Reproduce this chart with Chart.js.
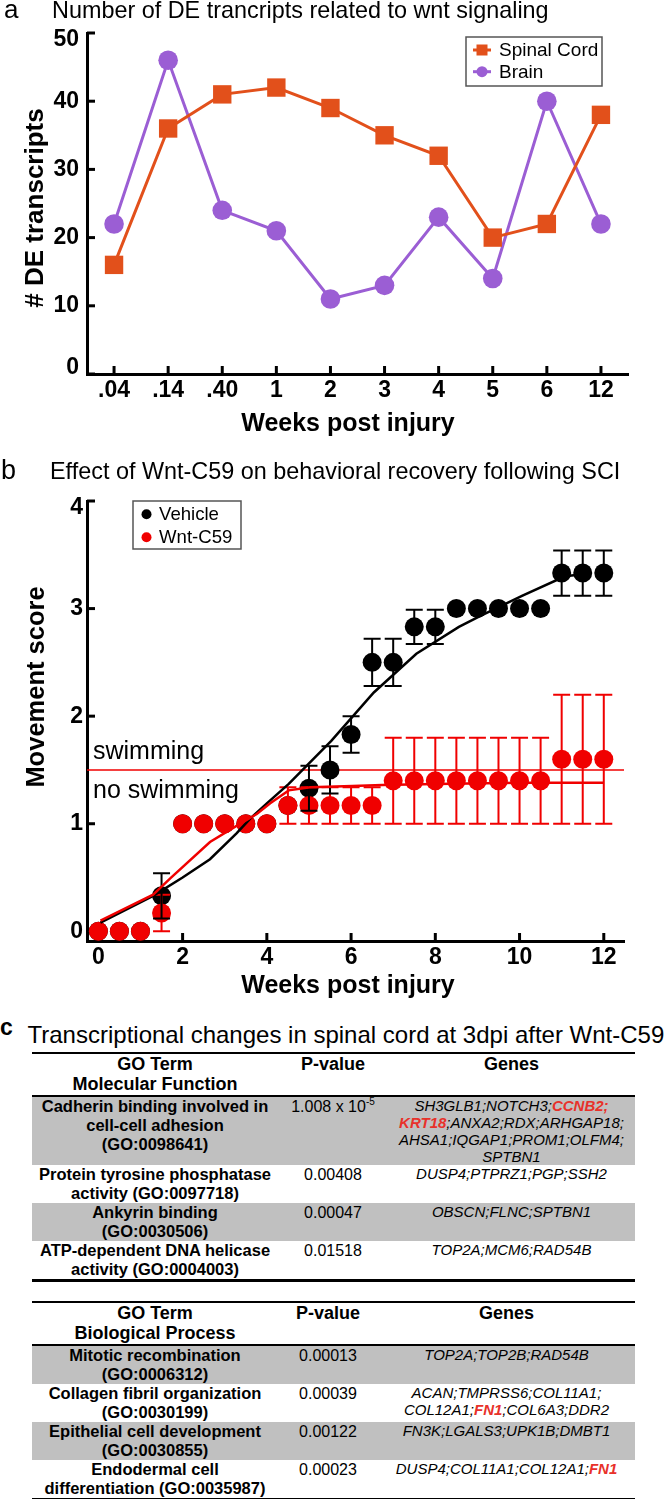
<!DOCTYPE html>
<html><head><meta charset="utf-8">
<script src="https://cdn.jsdelivr.net/npm/chart.js@4.4.1/dist/chart.umd.min.js"></script>
<style>
html,body{margin:0;padding:0;background:#fff;}
body{width:666px;height:1499px;position:relative;overflow:hidden;font-family:"Liberation Sans",Arial,sans-serif;color:#000;}
.t{position:absolute;white-space:nowrap;line-height:1;}
canvas{position:absolute;left:0;}
table{position:absolute;left:32px;width:603px;border-collapse:collapse;table-layout:fixed;}
th{font-weight:bold;font-size:18px;line-height:20px;padding:0 0 1px 0;vertical-align:top;text-align:center;white-space:nowrap;}
td{vertical-align:top;text-align:center;padding:0;white-space:nowrap;}
td.term{font-weight:bold;font-size:16.5px;line-height:19px;}
td.p{font-size:16px;line-height:19px;}
td.p sup{font-size:10px;line-height:0;vertical-align:7px;}
td.g{font-style:italic;font-size:15px;line-height:17px;}
td.g span.hl{color:#e8312a;font-weight:bold;}
tr.gray td{background:#c0c0c0;}
thead tr{border-top:2px solid #000;border-bottom:2px solid #000;}
tbody tr:last-child{border-bottom:3px solid #000;}
</style></head><body>
<canvas id="chartA" width="666" height="445" style="top:0"></canvas>
<canvas id="chartB" width="666" height="565" style="top:445px"></canvas>
<script>
// ---------------- DATA ----------------
// Panel a
const weekLabelsA = ['.04', '.14', '.40', '1', '2', '3', '4', '5', '6', '12'];
const spinalCord = [16, 36, 41, 42, 39, 35, 32, 20, 22, 38];
const brain = [22, 46, 24, 21, 11, 13, 23, 14, 40, 22];
const seriesNamesA = ['Spinal Cord', 'Brain'];
const yTicksA = [0, 10, 20, 30, 40, 50];

// Panel b
const weeksB = [0, 0.5, 1, 1.5, 2, 2.5, 3, 3.5, 4, 4.5, 5, 5.5, 6, 6.5, 7, 7.5, 8, 8.5, 9, 9.5, 10, 10.5, 11, 11.5, 12];
const vehicleMean = [0, 0, 0, 0.33, 1, 1, 1, 1, 1, 1.17, 1.33, 1.5, 1.83, 2.5, 2.5, 2.83, 2.83, 3, 3, 3, 3, 3, 3.33, 3.33, 3.33];
const vehicleSD = [0, 0, 0, 0.21, 0, 0, 0, 0, 0, 0, 0.21, 0.22, 0.17, 0.22, 0.22, 0.16, 0.16, 0, 0, 0, 0, 0, 0.21, 0.21, 0.21];
const wntMean = [0, 0, 0, 0.17, 1, 1, 1, 1, 1, 1.17, 1.17, 1.17, 1.17, 1.17, 1.4, 1.4, 1.4, 1.4, 1.4, 1.4, 1.4, 1.4, 1.6, 1.6, 1.6];
const wntSD = [0, 0, 0, 0.17, 0, 0, 0, 0, 0, 0.17, 0.17, 0.17, 0.17, 0.17, 0.4, 0.4, 0.4, 0.4, 0.4, 0.4, 0.4, 0.4, 0.6, 0.6, 0.6];
const vehicleFitX = [0.05, 1.3, 2.0, 2.65, 3.28, 3.61, 4.0, 4.52, 5.53, 6.54, 7.55, 8.56, 9.06, 10.07, 11.08, 11.5];
const vehicleFitY = [0.08, 0.33, 0.50, 0.67, 0.91, 1.05, 1.19, 1.37, 1.77, 2.22, 2.58, 2.83, 2.93, 3.12, 3.30, 3.32];
const wntFitX = [0.05, 1.3, 1.7, 2.65, 3.28, 3.76, 4.08, 4.52, 5.03, 6.03, 6.74, 8.0, 10.0, 12.0];
const wntFitY = [0.10, 0.34, 0.49, 0.83, 0.98, 1.09, 1.19, 1.31, 1.34, 1.35, 1.36, 1.37, 1.38, 1.38];
const seriesNamesB = ['Vehicle', 'Wnt-C59'];
const swimmingThreshold = 1.5;
const thresholdLabels = ['swimming', 'no swimming'];
const xTicksB = [0, 2, 4, 6, 8, 10, 12];
const yTicksB = [0, 1, 2, 3, 4];

// Panel c
const mfHeader = ['GO Term', 'Molecular Function'];
const bpHeader = ['GO Term', 'Biological Process'];
const colHeaders = ['P-value', 'Genes'];
const mfTerms = [['Cadherin binding involved in', 'cell-cell adhesion', '(GO:0098641)'], ['Protein tyrosine phosphatase', 'activity (GO:0097718)'], ['Ankyrin binding', '(GO:0030506)'], ['ATP-dependent DNA helicase', 'activity (GO:0004003)']];
const mfPvalues = ['1.008 x 10^-5', '0.00408', '0.00047', '0.01518'];
const mfGenes = [['SH3GLB1;NOTCH3;CCNB2;', 'KRT18;ANXA2;RDX;ARHGAP18;', 'AHSA1;IQGAP1;PROM1;OLFM4;', 'SPTBN1'], ['DUSP4;PTPRZ1;PGP;SSH2'], ['OBSCN;FLNC;SPTBN1'], ['TOP2A;MCM6;RAD54B']];
const bpTerms = [['Mitotic recombination', '(GO:0006312)'], ['Collagen fibril organization', '(GO:0030199)'], ['Epithelial cell development', '(GO:0030855)'], ['Endodermal cell', 'differentiation (GO:0035987)']];
const bpPvalues = ['0.00013', '0.00039', '0.00122', '0.00023'];
const bpGenes = [['TOP2A;TOP2B;RAD54B'], ['ACAN;TMPRSS6;COL11A1;', 'COL12A1;FN1;COL6A3;DDR2'], ['FN3K;LGALS3;UPK1B;DMBT1'], ['DUSP4;COL11A1;COL12A1;FN1']];
const highlightedGenes = ['CCNB2', 'KRT18', 'FN1'];

// ---------------- STYLE ----------------
const FONT = '"Liberation Sans", Arial, sans-serif';
const ORANGE = 'rgb(226,80,27)';
const PURPLE = 'rgb(155,94,212)';
const RED = 'rgb(240,0,0)';
const BLACK = '#000';

function placeText(txt, x, baseline, size, weight, extra) {
  const d = document.createElement('div');
  d.className = 't';
  d.textContent = txt;
  d.style.left = x + 'px';
  d.style.top = (baseline - 0.8465 * size) + 'px';
  d.style.fontSize = size + 'px';
  if (weight) d.style.fontWeight = weight;
  if (extra) Object.assign(d.style, extra);
  document.body.appendChild(d);
}
placeText('a', 4, 18, 26);
placeText('Number of DE trancripts related to wnt signaling', 52, 18.5, 23.4);
placeText('b', 1, 480, 27);
placeText('Effect of Wnt-C59 on behavioral recovery following SCI', 50, 480, 23.4);
placeText('c', 0, 1035, 23, 'bold');
placeText('Transcriptional changes in spinal cord at 3dpi after Wnt-C59', 27.5, 1043, 24);

// ---------------- PLUGIN ----------------
const extras = {
  id: 'extras',
  beforeDatasetsDraw(chart, args, o) {
    const ctx = chart.ctx, ca = chart.chartArea, xs = chart.scales.x, ys = chart.scales.y;
    ctx.save();
    if (o.hLine) {
      const py = ys.getPixelForValue(o.hLine.value);
      ctx.strokeStyle = o.hLine.color; ctx.lineWidth = o.hLine.width;
      ctx.beginPath(); ctx.moveTo(ca.left, py); ctx.lineTo(ca.right, py); ctx.stroke();
      ctx.fillStyle = '#000';
      ctx.font = o.hLine.size + 'px ' + FONT;
      ctx.textBaseline = 'alphabetic'; ctx.textAlign = 'left';
      ctx.fillText(o.hLine.labels[0], o.hLine.labelX, py - o.hLine.above);
      ctx.fillText(o.hLine.labels[1], o.hLine.labelX, py + o.hLine.below);
    }
    ctx.strokeStyle = '#000'; ctx.lineWidth = 3; ctx.lineCap = 'butt';
    xs.ticks.forEach((t, i) => {
      const px = xs.getPixelForTick(i);
      ctx.beginPath(); ctx.moveTo(px, ca.bottom); ctx.lineTo(px, ca.bottom - o.tickLen); ctx.stroke();
    });
    ys.ticks.forEach((t, i) => {
      const py = ys.getPixelForTick(i);
      ctx.beginPath(); ctx.moveTo(ca.left, py); ctx.lineTo(ca.left + o.tickLen, py); ctx.stroke();
    });
    ctx.restore();
  },
  afterDatasetDraw(chart, args, o) {
    if (!o.errorBars || args.index !== o.errorBars.afterIndex) return;
    const ctx = chart.ctx, xs = chart.scales.x, ys = chart.scales.y;
    ctx.save();
    o.errorBars.sets.forEach(s => {
      ctx.strokeStyle = s.color; ctx.lineWidth = 2;
      s.x.forEach((xv, i) => {
        const sd = s.sd[i]; if (!sd) return;
        const px = xs.getPixelForValue(xv);
        const y1 = ys.getPixelForValue(s.mean[i] + sd), y2 = ys.getPixelForValue(s.mean[i] - sd);
        const w = o.errorBars.cap;
        ctx.beginPath();
        ctx.moveTo(px, y1); ctx.lineTo(px, y2);
        ctx.moveTo(px - w, y1); ctx.lineTo(px + w, y1);
        ctx.moveTo(px - w, y2); ctx.lineTo(px + w, y2);
        ctx.stroke();
      });
    });
    ctx.restore();
  },
  afterDraw(chart, args, o) {
    const ctx = chart.ctx, ca = chart.chartArea, ys = chart.scales.y;
    ctx.save();
    ctx.fillStyle = '#000';
    // y tick labels, kept inside the axis extent
    ctx.font = 'bold ' + o.yLabels.size + 'px ' + FONT;
    ctx.textAlign = 'right'; ctx.textBaseline = 'middle';
    ys.ticks.forEach((t, i) => {
      let py = ys.getPixelForTick(i);
      py = Math.max(ca.top + o.yLabels.topInset, Math.min(ca.bottom - o.yLabels.bottomInset, py));
      ctx.fillText(String(t.label !== undefined ? t.label : t.value), ca.left - o.yLabels.pad, py);
    });
    // axis titles
    ctx.font = 'bold ' + o.xTitle.size + 'px ' + FONT;
    ctx.textAlign = 'center'; ctx.textBaseline = 'alphabetic';
    ctx.fillText(o.xTitle.text, o.xTitle.cx, o.xTitle.baseline);
    ctx.save();
    ctx.translate(o.yTitle.cx, o.yTitle.cy); ctx.rotate(-Math.PI / 2);
    ctx.font = 'bold ' + o.yTitle.size + 'px ' + FONT;
    ctx.textBaseline = 'middle';
    ctx.fillText(o.yTitle.text, 0, 0);
    ctx.restore();
    // legend
    const L = o.legend;
    ctx.strokeStyle = L.borderColor; ctx.lineWidth = L.borderWidth;
    ctx.strokeRect(L.x, L.y, L.w, L.h);
    L.names.forEach((name, k) => {
      const ds = chart.data.datasets.find(d => d.label === name);
      const cy = L.rowY[k];
      if (L.line) {
        ctx.strokeStyle = ds.borderColor; ctx.lineWidth = 3;
        ctx.beginPath(); ctx.moveTo(L.lineX0, cy); ctx.lineTo(L.lineX1, cy); ctx.stroke();
      }
      ctx.fillStyle = ds.backgroundColor;
      if (ds.pointStyle === 'rect') {
        ctx.fillRect(L.markerX - L.markerSize / 2, cy - L.markerSize / 2, L.markerSize, L.markerSize);
      } else {
        ctx.beginPath(); ctx.arc(L.markerX, cy, L.markerSize / 2, 0, Math.PI * 2); ctx.fill();
      }
      ctx.fillStyle = '#000';
      ctx.font = L.size + 'px ' + FONT;
      ctx.textAlign = 'left'; ctx.textBaseline = 'middle';
      ctx.fillText(name, L.textX, cy + 1);
    });
    ctx.restore();
  }
};
Chart.register(extras);
Chart.defaults.color = '#000';
Chart.defaults.font.family = FONT;

// ---------------- CHART A ----------------
new Chart(document.getElementById('chartA'), {
  type: 'line',
  data: {
    labels: weekLabelsA,
    datasets: [
      { label: seriesNamesA[0], data: spinalCord, borderColor: ORANGE, backgroundColor: ORANGE, borderWidth: 3,
        pointStyle: 'rect', pointRadius: 13, pointBorderWidth: 0, pointHoverRadius: 13, tension: 0 },
      { label: seriesNamesA[1], data: brain, borderColor: PURPLE, backgroundColor: PURPLE, borderWidth: 3,
        pointStyle: 'circle', pointRadius: 9.8, pointBorderWidth: 0, pointHoverRadius: 9.8, tension: 0 }
    ]
  },
  options: {
    responsive: false, animation: false, devicePixelRatio: 1, events: [],
    layout: { padding: { top: 33, right: 38, bottom: 0, left: 0 } },
    plugins: {
      legend: { display: false }, tooltip: { enabled: false },
      extras: {
        tickLen: 8,
        yLabels: { size: 23, pad: 8, topInset: 6.5, bottomInset: 6 },
        xTitle: { text: 'Weeks post injury', cx: 348, baseline: 431, size: 25 },
        yTitle: { text: '# DE transcripts', cx: 36, cy: 208, size: 26 },
        legend: { x: 466, y: 37, w: 136, h: 49, borderColor: '#555', borderWidth: 1.5, names: seriesNamesA,
          rowY: [50, 71.7], line: true, lineX0: 473, lineX1: 491, markerX: 482, markerSize: 11, textX: 499, size: 19 }
      }
    },
    scales: {
      x: { type: 'category', offset: true,
        grid: { display: false, drawTicks: false }, border: { display: true, color: '#000', width: 3 },
        ticks: { font: { size: 23, weight: 'bold' }, color: '#000', padding: 3, maxRotation: 0, autoSkip: false },
        afterFit(s) { s.height = 71; } },
      y: { min: 0, max: 50,
        afterBuildTicks(s) { s.ticks = yTicksA.map(v => ({ value: v })); },
        grid: { display: false, drawTicks: false }, border: { display: true, color: '#000', width: 3 },
        ticks: { display: false },
        afterFit(s) { s.width = 87; } }
    }
  }
});

// ---------------- CHART B ----------------
const pts = (xs, ys) => xs.map((x, i) => ({ x: x, y: ys[i] }));
new Chart(document.getElementById('chartB'), {
  type: 'scatter',
  data: {
    datasets: [
      { label: 'Wnt-C59 fit', type: 'line', data: pts(wntFitX, wntFitY), borderColor: RED, borderWidth: 2.5,
        pointRadius: 0, tension: 0, fill: false, order: 1 },
      { label: 'Vehicle fit', type: 'line', data: pts(vehicleFitX, vehicleFitY), borderColor: BLACK, borderWidth: 2.5,
        pointRadius: 0, tension: 0, fill: false, order: 2 },
      { label: seriesNamesB[1], data: pts(weeksB, wntMean), showLine: false, pointStyle: 'circle',
        pointRadius: 9.5, pointHoverRadius: 9.5, pointBorderWidth: 0, backgroundColor: RED, borderColor: RED, order: 3 },
      { label: seriesNamesB[0], data: pts(weeksB, vehicleMean), showLine: false, pointStyle: 'circle',
        pointRadius: 9.5, pointHoverRadius: 9.5, pointBorderWidth: 0, backgroundColor: BLACK, borderColor: BLACK, order: 4 }
    ]
  },
  options: {
    responsive: false, animation: false, devicePixelRatio: 1, events: [],
    layout: { padding: { top: 56, right: 42, bottom: 0, left: 0 } },
    plugins: {
      legend: { display: false }, tooltip: { enabled: false },
      extras: {
        tickLen: 8,
        yLabels: { size: 23, pad: 4, topInset: 7, bottomInset: 6 },
        hLine: { value: swimmingThreshold, color: RED, width: 1.5, labels: thresholdLabels, labelX: 93, above: 11, below: 28, size: 25 },
        errorBars: { afterIndex: 2, cap: 8.5, sets: [
          { x: weeksB, mean: wntMean, sd: wntSD, color: RED },
          { x: weeksB, mean: vehicleMean, sd: vehicleSD, color: BLACK } ] },
        xTitle: { text: 'Weeks post injury', cx: 348, baseline: 548, size: 25 },
        yTitle: { text: 'Movement score', cx: 37, cy: 242, size: 25.5 },
        legend: { x: 133, y: 56, w: 108, h: 48, borderColor: '#555', borderWidth: 1.5, names: seriesNamesB,
          rowY: [69.3, 92.3], line: false, markerX: 146.5, markerSize: 10, textX: 159, size: 18.6 }
      }
    },
    scales: {
      x: { type: 'linear', min: -0.27, max: 12.48,
        afterBuildTicks(s) { s.ticks = xTicksB.map(v => ({ value: v })); },
        grid: { display: false, drawTicks: false }, border: { display: true, color: '#000', width: 3 },
        ticks: { font: { size: 23, weight: 'bold' }, color: '#000', padding: 3, maxRotation: 0 },
        afterFit(s) { s.height = 69; } },
      y: { type: 'linear', min: -0.09, max: 4,
        afterBuildTicks(s) { s.ticks = yTicksB.map(v => ({ value: v })); },
        grid: { display: false, drawTicks: false }, border: { display: true, color: '#000', width: 3 },
        ticks: { display: false },
        afterFit(s) { s.width = 87; } }
    }
  }
});

// ---------------- TABLES ----------------
function geneHTML(line) {
  const toks = line.split(/(;)/).filter(t => t !== '');
  let html = '';
  toks.forEach((t, i) => {
    if (highlightedGenes.includes(t)) html += '<span class="hl">' + t + '</span>';
    else if (t === ';' && i === toks.length - 1 && highlightedGenes.includes(toks[i - 1])) html += '<span class="hl">;</span>';
    else html += t;
  });
  return html;
}
function pHTML(p) {
  const parts = p.split('^');
  return parts.length > 1 ? parts[0] + '<sup>' + parts[1] + '</sup>' : p;
}
function buildTable(top, widths, header, terms, pvals, genes) {
  const t = document.createElement('table');
  t.style.top = top + 'px';
  let h = '<colgroup>' + widths.map(w => '<col style="width:' + w + 'px">').join('') + '</colgroup>';
  h += '<thead><tr><th>' + header.join('<br>') + '</th><th>' + colHeaders[0] + '</th><th>' + colHeaders[1] + '</th></tr></thead><tbody>';
  terms.forEach((term, i) => {
    h += '<tr class="' + (i % 2 === 0 ? 'gray' : '') + '"><td class="term">' + term.join('<br>') + '</td><td class="p">' +
      pHTML(pvals[i]) + '</td><td class="g">' + genes[i].map(geneHTML).join('<br>') + '</td></tr>';
  });
  h += '</tbody>';
  t.innerHTML = h;
  document.body.appendChild(t);
}
buildTable(1052, [246, 110, 247], mfHeader, mfTerms, mfPvalues, mfGenes);
buildTable(1301, [246, 100, 257], bpHeader, bpTerms, bpPvalues, bpGenes);
</script>
</body></html>
